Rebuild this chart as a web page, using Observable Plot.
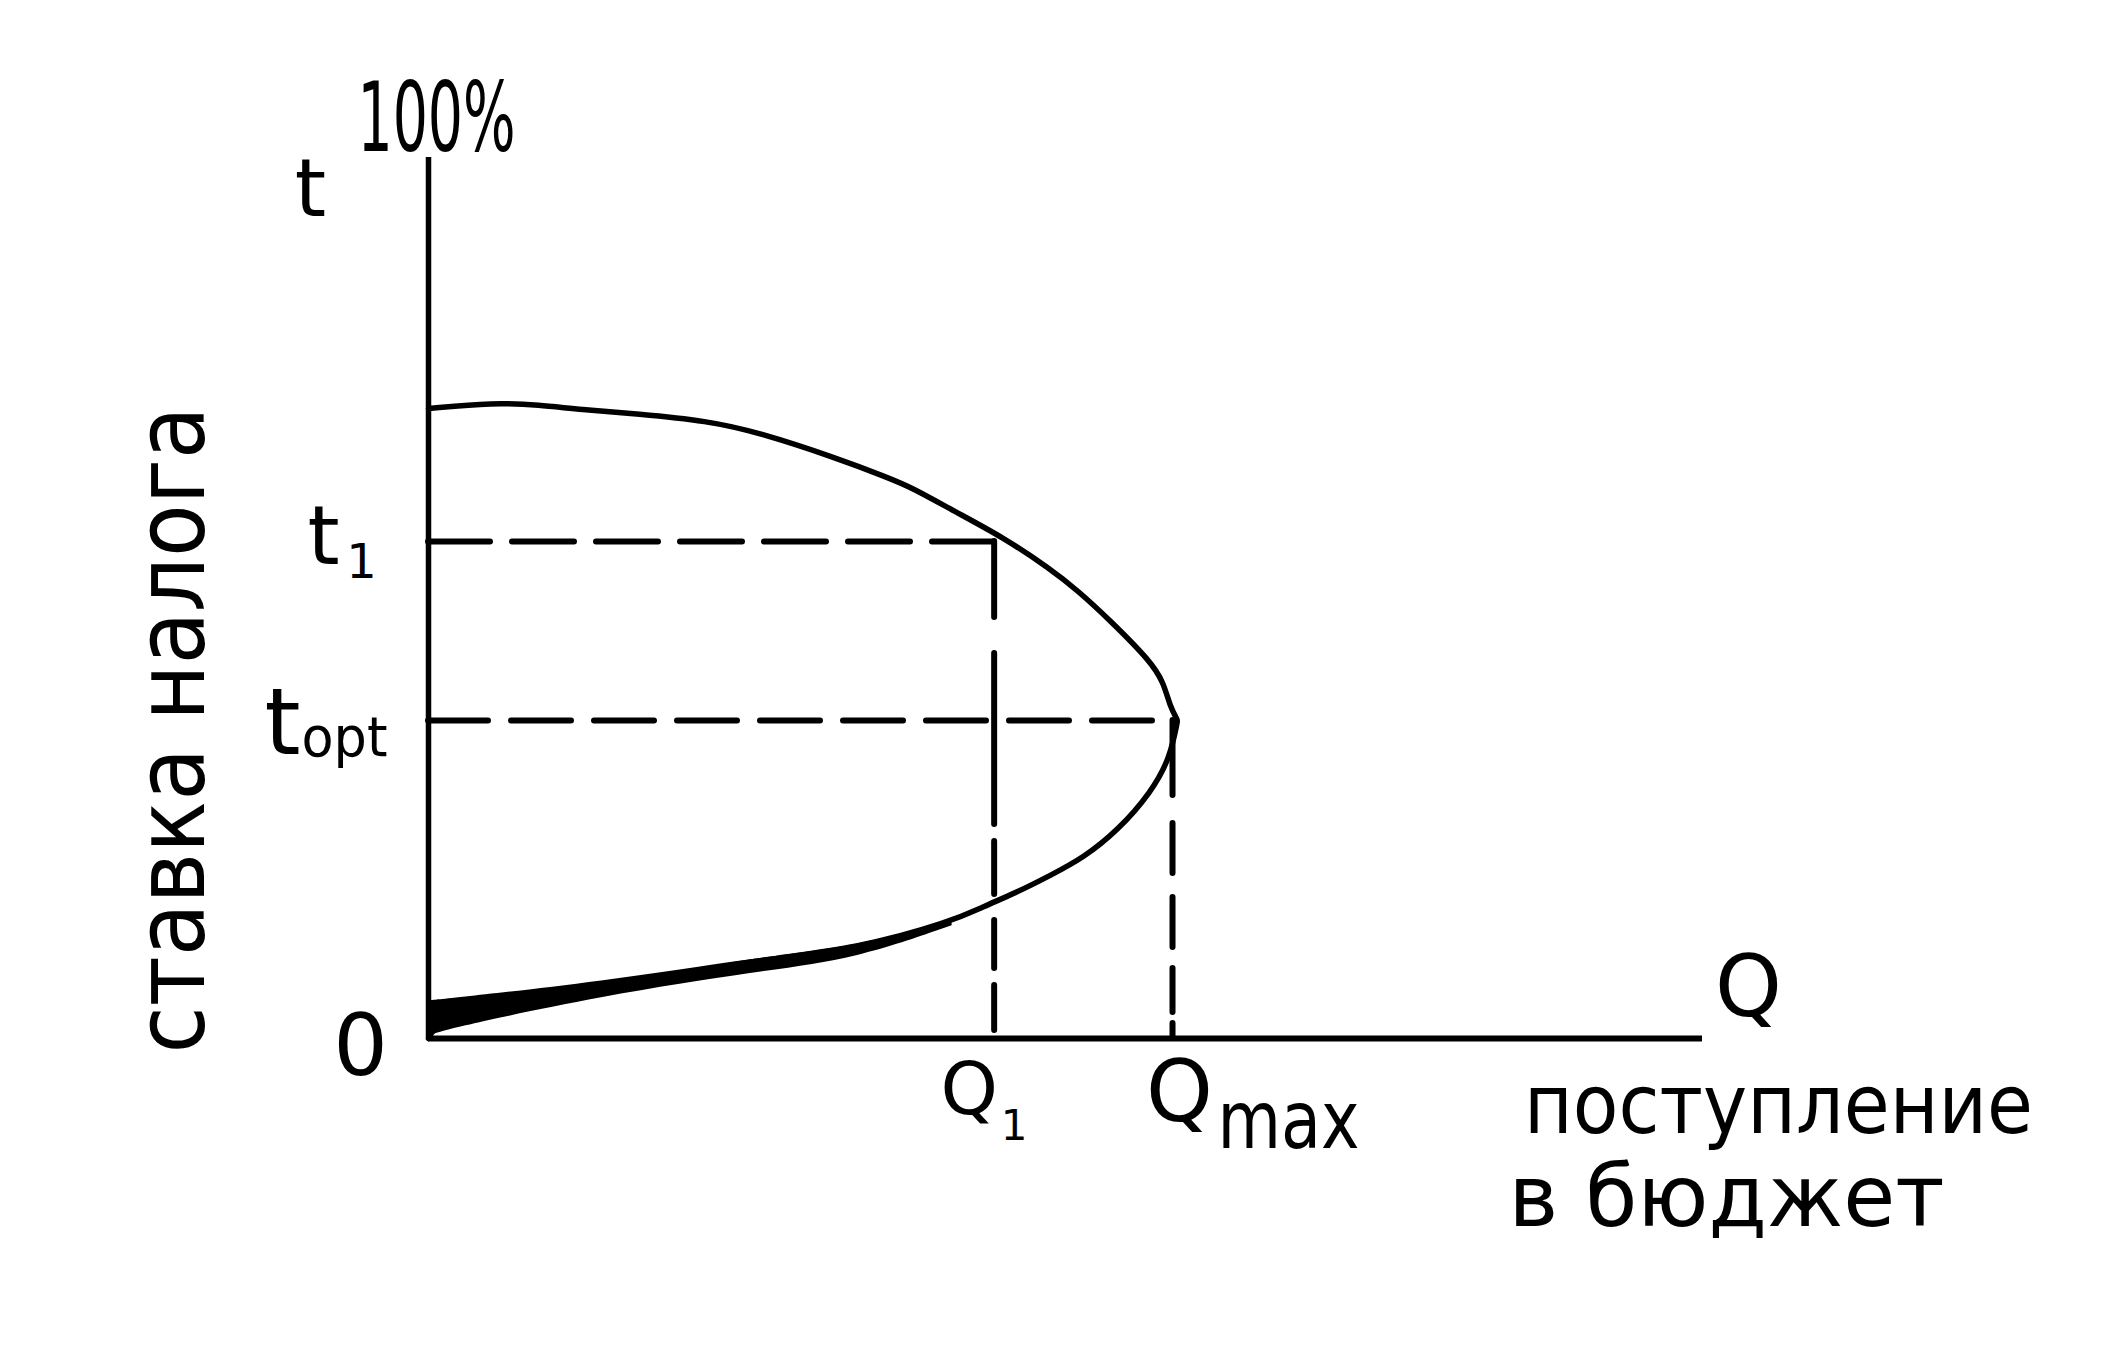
<!DOCTYPE html>
<html>
<head>
<meta charset="utf-8">
<script src="https://cdn.jsdelivr.net/npm/d3@7"></script>
<script src="https://cdn.jsdelivr.net/npm/@observablehq/plot@0.6"></script>
<style>
  html, body { margin: 0; padding: 0; background: #fff; overflow: hidden; }
</style>
</head>
<body>
<div id="chart"></div>
<script>
// ---- Data ----
// Q = budget revenue (arbitrary units, 0..100 along the drawn axis), t = tax rate, % (0..100)
const qCurve = [0, 0, 5.1, 8.7, 11.9, 16.4, 21.9, 25.9, 32.0, 36.0, 38.0, 41.2, 45.1, 48.8, 51.0, 53.4, 56.7, 57.7, 58.2, 58.8, 58.8,
                58.2, 56.7, 54.1, 51.4, 48.8, 46.2, 43.6, 41.1, 33.6, 26.1, 16.1, 8.6, 1.0, 0, 0];
const tCurve = [71.5, 71.5, 72.2, 71.9, 71.4, 70.9, 70.1, 68.8, 65.9, 63.7, 62.5, 59.9, 56.9, 53.3, 50.8, 47.6, 42.8, 40.4, 37.7, 36.1, 36.1,
                31.8, 27.9, 23.6, 20.5, 18.5, 16.6, 15.0, 13.3, 10.2, 9.0, 6.4, 4.7, 2.8, 0, 0];
// thick pen stroke near the origin (lower branch)
const qWedge = [0.1, 1.0, 13.6, 26.1, 33.6, 41.1];
const tWedgeLow = [0.2, 0.9, 4.8, 7.6, 9.0, 12.8];
const tWedgeHigh = [4.3, 4.4, 6.4, 9.2, 10.4, 13.4];

const t1 = 56.4, tOpt = 36.1;      // marked tax rates
const Q1 = 44.4, Qmax = 58.4;      // marked revenues
const tTop = 100, qEnd = 100;      // axis ends

const yAxisName = "t";
const xAxisName = "Q";
const topLabel = "100%";
const originLabel = "0";
const yTitle = "ставка налога";
const xTitle = ["поступление", "в бюджет"];

// ---- Build tables ----
const curve = qCurve.map((q, i) => ({q, t: tCurve[i]}));
const wedge = qWedge.map((q, i) => ({q, lo: tWedgeLow[i], hi: tWedgeHigh[i]}));

const font = "DejaVu Sans";
const lab = (s, x, y, dx, dy, fontSize, extra = {}) =>
  Plot.text([s], {x, y, text: d => d, dx, dy, fontSize, fontFamily: font, fill: "#000",
                  textAnchor: "middle", lineAnchor: "bottom", ...extra});

const plot = Plot.plot({
  width: 2125,
  height: 1359,
  marginLeft: 428,
  marginRight: 423,
  marginTop: 157,
  marginBottom: 321,
  x: {domain: [0, qEnd], axis: null},
  y: {domain: [0, tTop], axis: null},
  style: {background: "#fff", color: "#000"},
  marks: [
    // axes
    Plot.ruleX([0], {y1: 0, y2: tTop, stroke: "#000", strokeWidth: 5.5}),
    Plot.ruleY([0], {x1: 0, x2: qEnd, stroke: "#000", strokeWidth: 6}),
    // dashed guides
    Plot.ruleY([t1], {x1: 0, x2: Q1, stroke: "#000", strokeWidth: 6, strokeDasharray: "62 22", strokeLinecap: "round"}),
    Plot.ruleY([tOpt], {x1: 0, x2: Qmax, stroke: "#000", strokeWidth: 6, strokeDasharray: "60 23", strokeLinecap: "round"}),
    Plot.ruleX([Q1], {y1: t1, y2: 0, stroke: "#000", strokeWidth: 6,
                      strokeDasharray: "76 36 171 17 53 26 48 17 45 12", strokeLinecap: "round"}),
    Plot.ruleX([Qmax], {y1: tOpt, y2: 0, stroke: "#000", strokeWidth: 6,
                        strokeDasharray: "75 28 50 24 50 21 44 11 20", strokeLinecap: "round"}),
    // curve
    Plot.areaY(wedge, {x: "q", y1: "lo", y2: "hi", fill: "#000", curve: "basis"}),
    Plot.line(curve, {x: "q", y: "t", stroke: "#000", strokeWidth: 5.5, curve: "basis", strokeLinejoin: "round", strokeLinecap: "round"}),
    // labels on the axes
    lab(topLabel, 0, tTop, 8, -7, 96),
    lab(yAxisName, 0, tTop, -118, 58, 80),
    lab("t", 0, t1, -105, 22, 82),
    lab("1", 0, t1, -67, 36, 48),
    lab("t", 0, tOpt, -146, 34, 92),
    lab("opt", 0, tOpt, -84, 36, 55),
    lab(originLabel, 0, 0, -68, 36, 86),
    lab(xAxisName, qEnd, 0, 46, -23, 85),
    lab("Q", Q1, 0, -25, 75, 73),
    lab("1", Q1, 0, 20, 101, 42),
    lab("Q", Qmax, 0, 7, 82, 85),
    lab("max", Qmax, 0, 116, 109, 80),
    lab(xTitle[0], qEnd, 0, 76, 94, 82),
    lab(xTitle[1], qEnd, 0, 24, 187, 85),
    Plot.text([yTitle], {frameAnchor: "left", text: d => d, dx: -225, dy: 132, rotate: -90,
                         fontSize: 97, fontFamily: font, fill: "#000", textAnchor: "middle", lineAnchor: "bottom"})
  ]
});

// squeeze hand-written-width texts to match the drawing
const fitWidths = new Map([
  [topLabel, 158], [xTitle[0], 509], [xTitle[1], 436], [yTitle, 647], ["max", 142], ["opt", 86]
]);
d3.select(plot).selectAll("text").each(function () {
  const L = fitWidths.get(this.textContent);
  if (L) {
    this.setAttribute("textLength", L);
    this.setAttribute("lengthAdjust", "spacingAndGlyphs");
  }
});

document.getElementById("chart").appendChild(plot);
</script>
</body>
</html>
